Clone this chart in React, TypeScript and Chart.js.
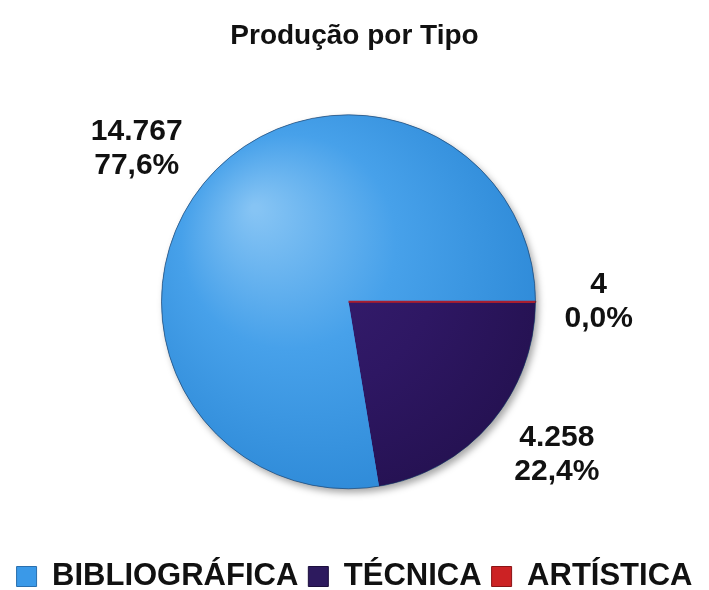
import React, { useEffect, useRef } from 'react';
import { Chart, registerables } from 'chart.js';

Chart.register(...registerables);

// ---- data ----
const titleText = 'Produção por Tipo';
const categories = ['BIBLIOGRÁFICA', 'TÉCNICA', 'ARTÍSTICA'];
const values = [14767, 4258, 4];
// clockwise drawing order of the slices (indices into categories)
const drawOrder = [1, 0, 2];

// ---- styles ----
const legendColors = ['#3a99e8', '#2d1a5e', '#cc2224'];
const legendStroke = ['#2a6fae', '#1c0f3d', '#8a1416'];
const FONT = '"Liberation Sans", Arial, Helvetica, sans-serif';
const PIE_RADIUS = 187;
const PIE_SHIFT_X = -6;

const total = values.reduce((a, b) => a + b, 0);

function fmtInt(n: number): string {
  return String(n).replace(/\B(?=(\d{3})+(?!\d))/g, '.');
}
function fmtPct(p: number): string {
  return p.toFixed(1).replace('.', ',') + '%';
}

function sliceFill(chart: any, catIdx: number): any {
  const area = chart.chartArea;
  if (!area) return legendColors[catIdx];
  const cx = (area.left + area.right) / 2;
  const cy = (area.top + area.bottom) / 2;
  const r = PIE_RADIUS;
  const g = chart.ctx.createRadialGradient(cx - r * 0.5, cy - r * 0.5, r * 0.02, cx - r * 0.1, cy - r * 0.1, r * 1.25);
  if (catIdx === 0) {
    g.addColorStop(0, '#86c4f4');
    g.addColorStop(0.45, '#47a1ea');
    g.addColorStop(1, '#2c88d6');
  } else if (catIdx === 1) {
    g.addColorStop(0, '#3a2175');
    g.addColorStop(0.6, '#2e1763');
    g.addColorStop(1, '#241150');
  } else {
    g.addColorStop(0, '#b8243a');
    g.addColorStop(1, '#9a1a2e');
  }
  return g;
}

const layoutShift = {
  id: 'layoutShift',
  afterLayout(chart: any) {
    const a = chart.chartArea;
    a.left += PIE_SHIFT_X;
    a.right += PIE_SHIFT_X;
  },
};

const pieDecor = {
  id: 'pieDecor',
  beforeDatasetsDraw(chart: any) {
    const arc = chart.getDatasetMeta(0).data[0];
    if (!arc) return;
    const { x, y, outerRadius } = arc;
    const ctx = chart.ctx;
    ctx.save();
    ctx.shadowColor = 'rgba(0,0,0,0.35)';
    ctx.shadowBlur = 7;
    ctx.shadowOffsetX = 3;
    ctx.shadowOffsetY = 4;
    ctx.beginPath();
    ctx.arc(x, y, outerRadius, 0, Math.PI * 2);
    ctx.fillStyle = '#3a99e8';
    ctx.fill();
    ctx.restore();
  },
  afterDatasetsDraw(chart: any) {
    const meta = chart.getDatasetMeta(0);
    const arcs = meta.data;
    if (!arcs.length) return;
    const ctx = chart.ctx;
    const { x: cx, y: cy, outerRadius: R } = arcs[0];
    // outline
    ctx.save();
    ctx.beginPath();
    ctx.arc(cx, cy, R, 0, Math.PI * 2);
    ctx.strokeStyle = 'rgba(30,50,80,0.55)';
    ctx.lineWidth = 1;
    ctx.stroke();
    ctx.restore();

    // labels
    ctx.save();
    ctx.font = `bold 30px ${FONT}`;
    ctx.fillStyle = '#111111';
    ctx.textAlign = 'center';
    ctx.textBaseline = 'middle';
    const lineH = 34;
    const gap = 24;
    arcs.forEach((arc: any, j: number) => {
      const catIdx = drawOrder[j];
      const v = values[catIdx];
      const lines = [fmtInt(v), fmtPct((v / total) * 100)];
      const w = Math.max(...lines.map((t) => ctx.measureText(t).width));
      const h = lineH * lines.length - 8;
      const mid = (arc.startAngle + arc.endAngle) / 2;
      const c = Math.cos(mid);
      const s = Math.sin(mid);
      const bx = cx + c * (R + gap) + Math.sign(c) * (w / 2 + 5);
      const by = cy + s * (R + gap) + s * h * 0.43;
      lines.forEach((t, k) => {
        ctx.fillText(t, bx, by + (k - (lines.length - 1) / 2) * lineH);
      });
    });
    ctx.restore();
  },
};

export default function App() {
  const ref = useRef<HTMLCanvasElement | null>(null);

  useEffect(() => {
    document.body.style.margin = '0';
    const canvas = ref.current;
    if (!canvas) return;
    const chart = new Chart(canvas, {
      type: 'pie',
      data: {
        labels: drawOrder.map((i) => categories[i]),
        datasets: [
          {
            data: drawOrder.map((i) => values[i]),
            backgroundColor: (ctx: any) => {
              if (ctx.dataIndex === undefined) return legendColors[0];
              return sliceFill(ctx.chart, drawOrder[ctx.dataIndex]);
            },
            borderColor: '#a81e30',
            borderWidth: (ctx: any) => (ctx.dataIndex !== undefined && drawOrder[ctx.dataIndex] === 2 ? 2 : 0),
            radius: PIE_RADIUS,
          } as any,
        ],
      },
      options: {
        responsive: false,
        animation: false,
        rotation: 90 + (360 * values[2]) / total,
        layout: { padding: { left: 0, right: 0, top: 0, bottom: -12 } },
        plugins: {
          title: {
            display: true,
            text: titleText,
            color: '#111111',
            font: { family: FONT, size: 28, weight: 'bold' },
            padding: { top: 19, bottom: 0 },
          },
          legend: {
            position: 'bottom',
            labels: {
              boxWidth: 20,
              boxHeight: 20,
              padding: 10,
              color: '#111111',
              font: { family: FONT, size: 31, weight: 'bold' },
              generateLabels: () =>
                categories.map((c, i) => ({
                  text: c,
                  fillStyle: legendColors[i],
                  strokeStyle: legendStroke[i],
                  lineWidth: 1,
                  hidden: false,
                  index: drawOrder.indexOf(i),
                  fontColor: '#111111',
                })),
            },
          },
          tooltip: { enabled: false },
        },
      },
      plugins: [layoutShift, pieDecor],
    });
    return () => chart.destroy();
  }, []);

  return (
    <div style={{ position: 'absolute', left: 0, top: 0, width: 709, height: 590, background: '#ffffff' }}>
      <canvas ref={ref} width={709} height={590} style={{ display: 'block' }} />
    </div>
  );
}
